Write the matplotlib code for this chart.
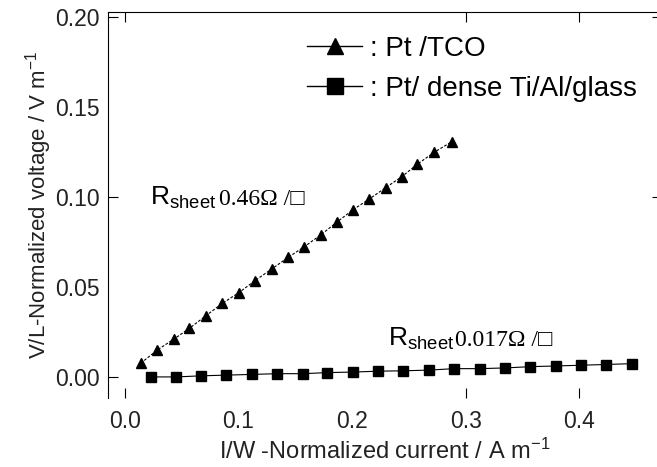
import matplotlib
matplotlib.use('Agg')
import matplotlib.pyplot as plt
from matplotlib.lines import Line2D

# Pt/TCO (triangles)
tri_x = [0.0138, 0.0285, 0.0432, 0.0567, 0.0714, 0.0858, 0.1004, 0.1145, 0.1292, 0.1439,
         0.1580, 0.1724, 0.1865, 0.2006, 0.2152, 0.2297, 0.2438, 0.2575, 0.2722, 0.2878]
tri_y = [0.0076, 0.0150, 0.0211, 0.0270, 0.0341, 0.0409, 0.0469, 0.0535, 0.0600, 0.0665,
         0.0724, 0.0789, 0.0860, 0.0928, 0.0989, 0.1052, 0.1113, 0.1182, 0.1248, 0.1307]

# Pt/dense Ti/Al/glass (squares)
sq_x = [0.0228, 0.0453, 0.0666, 0.0891, 0.1120, 0.1340, 0.1570, 0.1780, 0.2006, 0.2230,
        0.2450, 0.2680, 0.2900, 0.3125, 0.3350, 0.3570, 0.3800, 0.4016, 0.4234, 0.4470]
sq_y = [0.0000, 0.0000, 0.0006, 0.0010, 0.0014, 0.0018, 0.0018, 0.0024, 0.0027, 0.0032,
        0.0034, 0.0038, 0.0046, 0.0046, 0.0050, 0.0057, 0.0061, 0.0065, 0.0069, 0.0074]

x_ticks = [0.0, 0.1, 0.2, 0.3, 0.4]
y_ticks = [0.00, 0.05, 0.10, 0.15, 0.20]

plt.rcParams['font.family'] = ['Liberation Sans', 'DejaVu Sans']
plt.rcParams['mathtext.default'] = 'regular'

fig = plt.figure(figsize=(6.57, 4.67), dpi=100)
ax = fig.add_axes([0.1644, 0.1478, 0.8432, 0.8265])

ax.plot(tri_x, tri_y, color='black', lw=0.8, ls=(0, (2.5, 1.5)),
        marker='^', ms=7, mec='black', mfc='black')
ax.plot(sq_x, sq_y, color='black', lw=0.8, ls='-',
        marker='s', ms=6.5, mec='black', mfc='black')

ax.set_xlim(-0.015, 0.473)
ax.set_ylim(-0.0117, 0.2028)
ax.set_xticks(x_ticks)
ax.set_yticks(y_ticks)
ax.set_xticklabels(['%.1f' % v for v in x_ticks])
ax.set_yticklabels(['%.2f' % v for v in y_ticks])
ax.tick_params(direction='in', length=7, width=0.8, labelsize=16.5,
               top=True, right=True, color='black', labelcolor='#222222')
ax.tick_params(axis='x', pad=9)
ax.tick_params(axis='y', pad=6)

# only some tick marks show in the original
fig.canvas.draw()
for v, t in zip(x_ticks, ax.xaxis.get_major_ticks()):
    show = v in (0.0, 0.3, 0.4)
    t.tick1line.set_visible(show)
    t.tick2line.set_visible(show)
for v, t in zip(y_ticks, ax.yaxis.get_major_ticks()):
    t.tick1line.set_visible(v in (0.00, 0.10, 0.20))
    t.tick2line.set_visible(v in (0.10, 0.20))

ax.spines['bottom'].set_visible(False)
for s in ('left', 'top', 'right'):
    ax.spines[s].set_linewidth(0.8)

ax.set_xlabel('I/W -Normalized current / A m$^{-1}$', fontsize=17, color='#222222', labelpad=4)
ax.set_ylabel('V/L-Normalized voltage / V m$^{-1}$', fontsize=16, color='#222222', labelpad=1)

# sheet resistance notes
ax.text(0.022, 0.0956, 'R$_{sheet}$', fontsize=19, va='baseline', ha='left')
ax.text(0.083, 0.0956, '0.46\u03a9 /\u25a1', fontsize=17, va='baseline', ha='left',
        family=['Liberation Serif', 'DejaVu Serif'])
ax.text(0.2317, 0.0172, 'R$_{sheet}$', fontsize=19, va='baseline', ha='left')
ax.text(0.291, 0.0172, '0.017\u03a9 /\u25a1', fontsize=17, va='baseline', ha='left',
        family=['Liberation Serif', 'DejaVu Serif'])

handles = [Line2D([], [], color='black', lw=1, marker='^', ms=11),
           Line2D([], [], color='black', lw=1, marker='s', ms=11)]
ax.legend(handles, [': Pt /TCO', ': Pt/ dense Ti/Al/glass'], loc='upper left',
          bbox_to_anchor=(0.36, 0.938), frameon=False, fontsize=20,
          handlelength=1.95, handletextpad=0.3, labelspacing=0.5, borderpad=0,
          borderaxespad=0)

fig.savefig('out.png', dpi=100)
plt.close(fig)
